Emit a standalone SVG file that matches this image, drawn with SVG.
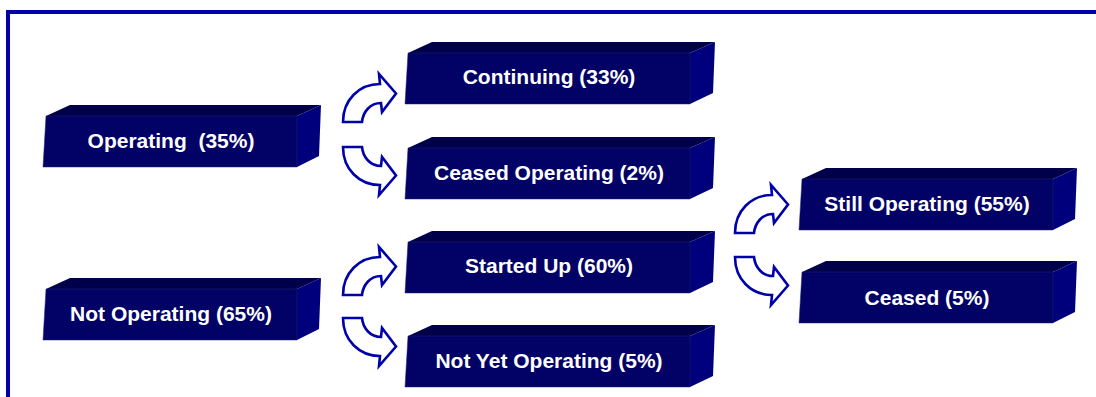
<svg xmlns="http://www.w3.org/2000/svg" width="1096" height="397" viewBox="0 0 1096 397">
  <style>
    .front { fill: #020266; }
    .top { fill: #00004a; }
    .side { fill: #00007c; }
    .edge { stroke: #23237a; stroke-width: 0.5; }
    .label { font-family: "Liberation Sans", Arial, sans-serif; font-size: 21px; font-weight: bold; fill: #ffffff; text-anchor: middle; white-space: pre; }
    .arrow { fill: #ffffff; stroke: #0000aa; stroke-width: 2.6; stroke-linejoin: miter; }
    .frame { stroke: #0000aa; stroke-width: 4; fill: none; }
  </style>
  <defs>
    <!-- 3D bar, narrow (side columns) -->
    <g id="bar-narrow">
      <polygon class="top" points="3,0 27,-11 278,-11 254,0"/>
      <polygon class="side" points="254,0 278,-11 276,40 254,51"/>
      <polygon class="front edge" points="3,0 254,0 254,51 0,51"/>
    </g>
    <!-- 3D bar, wide (middle column) -->
    <g id="bar-wide">
      <polygon class="top" points="3,0 27,-11 310,-11 285,0"/>
      <polygon class="side" points="285,0 310,-11 308,40 285,51"/>
      <polygon class="front edge" points="3,0 285,0 285,51 0,51"/>
    </g>
    <!-- curved block arrow bending up and right; origin at outer foot -->
    <path id="arrow-up" class="arrow" d="M0,0 C0,-22 16,-38 37,-38 L36,-48 L53,-28.5 L39,-10 L38,-19 C27,-19 20,-10 19,0 Z"/>
  </defs>

  <!-- frame -->
  <g id="frame">
    <line class="frame" x1="6" y1="12" x2="1096" y2="12"/>
    <line class="frame" x1="8" y1="10" x2="8" y2="397"/>
  </g>

  <!-- connectors -->
  <g id="connectors">
    <use href="#arrow-up" transform="translate(343,122)"/>
    <use href="#arrow-up" transform="translate(343,147) scale(1,-1)"/>
    <use href="#arrow-up" transform="translate(343,295)"/>
    <use href="#arrow-up" transform="translate(343,318) scale(1,-1)"/>
    <use href="#arrow-up" transform="translate(735,233)"/>
    <use href="#arrow-up" transform="translate(735,257) scale(1,-1)"/>
  </g>

  <g id="operating">
    <use href="#bar-narrow" transform="translate(43,116)"/>
    <text class="label" x="171" y="148" xml:space="preserve">Operating  (35%)</text>
  </g>
  <g id="not-operating">
    <use href="#bar-narrow" transform="translate(43,289)"/>
    <text class="label" x="171" y="321">Not Operating (65%)</text>
  </g>
  <g id="continuing">
    <use href="#bar-wide" transform="translate(405,53)"/>
    <text class="label" x="549" y="84">Continuing (33%)</text>
  </g>
  <g id="ceased-operating">
    <use href="#bar-wide" transform="translate(405,148)"/>
    <text class="label" x="549" y="180">Ceased Operating (2%)</text>
  </g>
  <g id="started-up">
    <use href="#bar-wide" transform="translate(405,242)"/>
    <text class="label" x="549" y="273">Started Up (60%)</text>
  </g>
  <g id="not-yet-operating">
    <use href="#bar-wide" transform="translate(405,336)"/>
    <text class="label" x="549" y="368">Not Yet Operating (5%)</text>
  </g>
  <g id="still-operating">
    <use href="#bar-narrow" transform="translate(799,179)"/>
    <text class="label" x="927" y="211">Still Operating (55%)</text>
  </g>
  <g id="ceased">
    <use href="#bar-narrow" transform="translate(799,272)"/>
    <text class="label" x="927" y="305">Ceased (5%)</text>
  </g>
</svg>
